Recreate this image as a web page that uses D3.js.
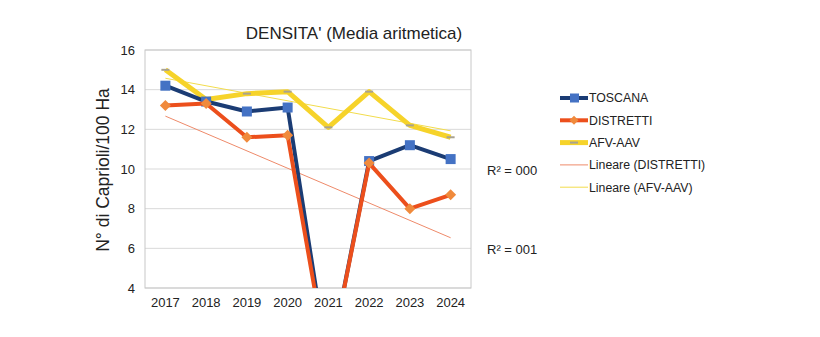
<!DOCTYPE html>
<html>
<head>
<meta charset="utf-8">
<script src="https://cdn.jsdelivr.net/npm/d3@7"></script>
<style>
  html, body { margin: 0; padding: 0; background: #fff; }
  svg { display: block; font-family: "Liberation Sans", Arial, sans-serif; }
</style>
</head>
<body>
<svg id="chart" width="820" height="337"></svg>
<script>
// Densità media caprioli per anno
const years = ['2017', '2018', '2019', '2020', '2021', '2022', '2023', '2024'];
const toscana = [14.2, 13.4, 12.9, 13.1, 0, 10.4, 11.2, 10.5];
const distretti = [13.2, 13.3, 11.6, 11.7, 0, 10.3, 8.0, 8.7];
const afvAav = [15.0, 13.5, 13.8, 13.9, 12.1, 13.9, 12.2, 11.6];
const yTicks = [4, 6, 8, 10, 12, 14, 16];
const r2Labels = ['R² = 000', 'R² = 001'];

const svg = d3.select('#chart');
const margin = { top: 50, right: 349, bottom: 49, left: 145 };
const width = 820 - margin.left - margin.right;
const height = 337 - margin.top - margin.bottom;

const x = d3.scaleBand().domain(years).range([0, width]);
const y = d3.scaleLinear().domain([4, 16]).range([height, 0]);
const cx = d => x(d) + x.bandwidth() / 2;

// title
svg.append('text')
  .attr('x', 354).attr('y', 39)
  .attr('text-anchor', 'middle')
  .attr('font-size', 17)
  .attr('fill', '#222')
  .text("DENSITA' (Media aritmetica)");

// y axis title
svg.append('text')
  .attr('transform', 'translate(109,170) rotate(-90)')
  .attr('text-anchor', 'middle')
  .attr('font-size', 17.5)
  .attr('fill', '#222')
  .text('N° di Caprioli/100 Ha');

const g = svg.append('g').attr('transform', `translate(${margin.left},${margin.top})`);

g.append('defs').append('clipPath').attr('id', 'plot-clip')
  .append('rect').attr('width', width).attr('height', height);

// grid
g.selectAll('.grid').data(yTicks).join('line')
  .attr('x1', 0).attr('x2', width)
  .attr('y1', d => y(d)).attr('y2', d => y(d))
  .attr('stroke', '#d9d9d9').attr('stroke-width', 1);

g.append('rect')
  .attr('width', width).attr('height', height)
  .attr('fill', 'none').attr('stroke', '#c8c8c8');

// axes
const yAxis = g.append('g')
  .call(d3.axisLeft(y).tickValues(yTicks).tickSize(0).tickPadding(10));
yAxis.select('.domain').remove();
yAxis.selectAll('text').attr('font-size', 13).attr('fill', '#222')
  .attr('font-family', '"Liberation Sans", Arial, sans-serif');

const xAxis = g.append('g').attr('transform', `translate(0,${height})`)
  .call(d3.axisBottom(x).tickSize(0).tickPadding(10));
xAxis.select('.domain').remove();
xAxis.selectAll('text').attr('font-size', 13).attr('fill', '#222')
  .attr('font-family', '"Liberation Sans", Arial, sans-serif');

const plot = g.append('g').attr('clip-path', 'url(#plot-clip)');

// linear trend (least squares)
function trend(vals) {
  const n = vals.length;
  const mx = (n - 1) / 2;
  const my = d3.mean(vals);
  let sxy = 0, sxx = 0;
  vals.forEach((v, i) => { sxy += (i - mx) * (v - my); sxx += (i - mx) * (i - mx); });
  const b = sxy / sxx, a = my - b * mx;
  return [[years[0], a], [years[n - 1], a + b * (n - 1)]];
}

const line = d3.line().x(d => cx(d[0])).y(d => y(d[1]));
const pairs = vals => years.map((yr, i) => [yr, vals[i]]);

plot.append('path').datum(trend(distretti))
  .attr('d', line).attr('fill', 'none')
  .attr('stroke', '#ee8a6a').attr('stroke-width', 1);
plot.append('path').datum(trend(afvAav))
  .attr('d', line).attr('fill', 'none')
  .attr('stroke', '#f2dc4c').attr('stroke-width', 1);

// AFV-AAV
plot.append('path').datum(pairs(afvAav))
  .attr('d', line).attr('fill', 'none')
  .attr('stroke', '#f6d32a').attr('stroke-width', 5)
  .attr('stroke-linejoin', 'round');
plot.selectAll('.m-afv').data(pairs(afvAav)).join('rect')
  .attr('x', d => cx(d[0]) - 4).attr('y', d => y(d[1]) - 1)
  .attr('width', 8).attr('height', 2)
  .attr('fill', '#a8a290');

// TOSCANA
plot.append('path').datum(pairs(toscana))
  .attr('d', line).attr('fill', 'none')
  .attr('stroke', '#1b3c74').attr('stroke-width', 4)
  .attr('stroke-linejoin', 'round');
plot.selectAll('.m-tos').data(pairs(toscana)).join('rect')
  .attr('x', d => cx(d[0]) - 5).attr('y', d => y(d[1]) - 5)
  .attr('width', 10).attr('height', 10)
  .attr('fill', '#4472c4');

// DISTRETTI
plot.append('path').datum(pairs(distretti))
  .attr('d', line).attr('fill', 'none')
  .attr('stroke', '#ec4f1c').attr('stroke-width', 4)
  .attr('stroke-linejoin', 'round');
plot.selectAll('.m-dis').data(pairs(distretti)).join('path')
  .attr('transform', d => `translate(${cx(d[0])},${y(d[1])})`)
  .attr('d', 'M0,-5.5L5.5,0L0,5.5L-5.5,0Z')
  .attr('fill', '#f08a3c');

// R² labels
svg.selectAll('.r2').data(r2Labels).join('text')
  .attr('x', 487)
  .attr('y', (d, i) => i === 0 ? 175 : 254)
  .attr('font-size', 13).attr('fill', '#222')
  .text(d => d);

// legend
const legendItems = [
  { name: 'TOSCANA', color: '#1b3c74', w: 4, marker: 'square' },
  { name: 'DISTRETTI', color: '#ec4f1c', w: 4, marker: 'diamond' },
  { name: 'AFV-AAV', color: '#f6d32a', w: 5, marker: 'dash' },
  { name: 'Lineare (DISTRETTI)', color: '#ee8a6a', w: 1 },
  { name: 'Lineare (AFV-AAV)', color: '#f2dc4c', w: 1 }
];
const legend = svg.append('g').attr('transform', 'translate(560,98)');
const row = legend.selectAll('g').data(legendItems).join('g')
  .attr('transform', (d, i) => `translate(0,${i * 22.3})`);
row.append('line')
  .attr('x1', 0).attr('x2', 28)
  .attr('stroke', d => d.color).attr('stroke-width', d => d.w);
row.filter(d => d.marker === 'square').append('rect')
  .attr('x', 10).attr('y', -4.5).attr('width', 9).attr('height', 9).attr('fill', '#4472c4');
row.filter(d => d.marker === 'diamond').append('path')
  .attr('transform', 'translate(14,0)')
  .attr('d', 'M0,-4.5L4.5,0L0,4.5L-4.5,0Z').attr('fill', '#f08a3c');
row.filter(d => d.marker === 'dash').append('rect')
  .attr('x', 10).attr('y', -1).attr('width', 8).attr('height', 2).attr('fill', '#a8a290');
row.append('text')
  .attr('x', 29).attr('dy', '0.35em')
  .attr('font-size', 12.3).attr('fill', '#222')
  .text(d => d.name);
</script>
</body>
</html>
